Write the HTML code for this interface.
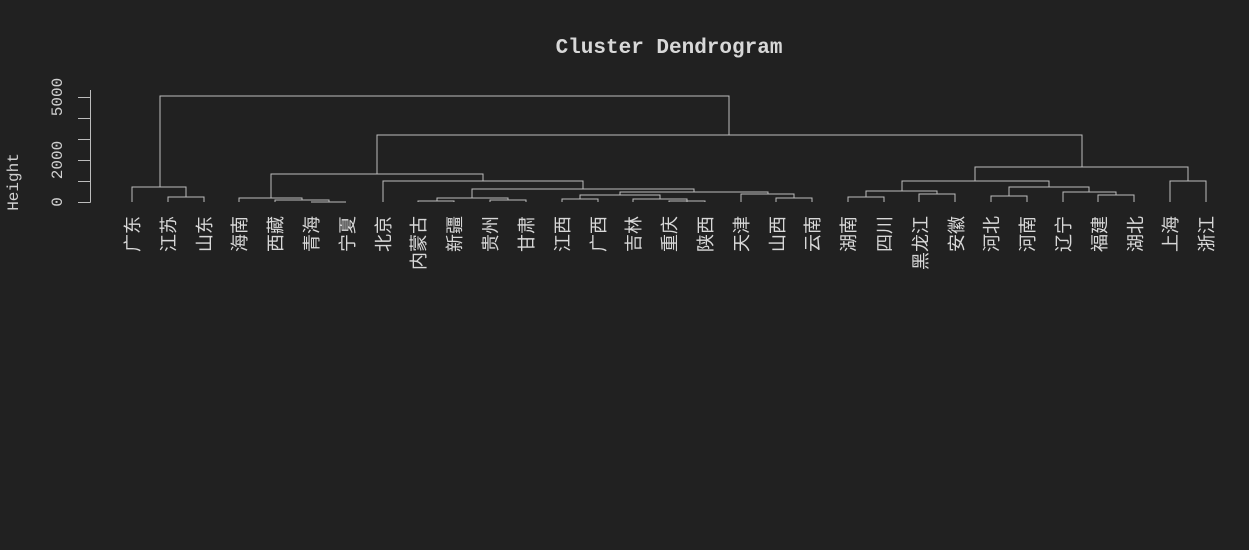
<!DOCTYPE html>
<html><head><meta charset="utf-8"><style>
html,body{margin:0;padding:0;background:#212121;}
svg{display:block}
</style></head><body>
<svg width="1249" height="550" xmlns="http://www.w3.org/2000/svg">
<rect width="1249" height="550" fill="#212121"/>
<text x="669" y="53" text-anchor="middle" fill="#d8d8d8" font-family="Liberation Mono, monospace" font-weight="bold" font-size="21">Cluster Dendrogram</text>
<g stroke="#bdbdbd" stroke-width="1" fill="none">
<path d="M90.5 90 V202.5 M78 202.5H90.5 M78 181.5H90.5 M78 160.5H90.5 M78 139.5H90.5 M78 118.5H90.5 M78 97.5H90.5"/>
</g>
<g fill="#d0d0d0" font-family="Liberation Mono, monospace" font-size="16" text-anchor="middle">
<text transform="translate(62,202) rotate(-90)">0</text>
<text transform="translate(62,160) rotate(-90)">2000</text>
<text transform="translate(62,97) rotate(-90)">5000</text>
<text transform="translate(18,182) rotate(-90)">Height</text>
</g>
<g stroke="#bdbdbd" stroke-width="1" fill="none" shape-rendering="crispEdges">
<!-- GD cluster -->
<path d="M168 202V197H204V202 M132 202V187H186V197 M160 187V96H729V135"/>
<!-- top right -->
<path d="M377 174V135H1082V167"/>
<!-- Hainan group -->
<path d="M311 202V202H346 M275 202V200H329V202 M239 202V198H302V200 M271 198V174H483V181"/>
<!-- Beijing group -->
<path d="M383 202V181H583V189"/>
<path d="M472 198V189H694V192"/>
<path d="M418 202V201H454V202 M490 202V200H526V202 M437 201V198H508V200"/>
<path d="M562 202V199H598V202 M580 199V195H660V199 M633 202V199H687V202 M669 202V201H705V202 M620 195V192H768V194"/>
<path d="M741 202V194H794V198 M776 202V198H812V202"/>
<!-- right -->
<path d="M975 181V167H1188V181 M1170 202V181H1206V202"/>
<path d="M902 191V181H1049V187"/>
<path d="M848 202V197H884V202 M866 197V191H937V194 M919 202V194H955V202"/>
<path d="M991 202V196H1027V202 M1009 196V187H1089V192 M1063 202V192H1116V195 M1098 202V195H1134V202"/>
</g>
<g fill="#d8d8d8" font-family="Liberation Sans, Noto Sans CJK SC, sans-serif" font-size="18" text-anchor="end">
<text transform="translate(139,216) rotate(-90)">广东</text>
<text transform="translate(175,216) rotate(-90)">江苏</text>
<text transform="translate(211,216) rotate(-90)">山东</text>
<text transform="translate(246,216) rotate(-90)">海南</text>
<text transform="translate(282,216) rotate(-90)">西藏</text>
<text transform="translate(318,216) rotate(-90)">青海</text>
<text transform="translate(354,216) rotate(-90)">宁夏</text>
<text transform="translate(390,216) rotate(-90)">北京</text>
<text transform="translate(425,216) rotate(-90)">内蒙古</text>
<text transform="translate(461,216) rotate(-90)">新疆</text>
<text transform="translate(497,216) rotate(-90)">贵州</text>
<text transform="translate(533,216) rotate(-90)">甘肃</text>
<text transform="translate(569,216) rotate(-90)">江西</text>
<text transform="translate(605,216) rotate(-90)">广西</text>
<text transform="translate(640,216) rotate(-90)">吉林</text>
<text transform="translate(676,216) rotate(-90)">重庆</text>
<text transform="translate(712,216) rotate(-90)">陕西</text>
<text transform="translate(748,216) rotate(-90)">天津</text>
<text transform="translate(784,216) rotate(-90)">山西</text>
<text transform="translate(819,216) rotate(-90)">云南</text>
<text transform="translate(855,216) rotate(-90)">湖南</text>
<text transform="translate(891,216) rotate(-90)">四川</text>
<text transform="translate(927,216) rotate(-90)">黑龙江</text>
<text transform="translate(963,216) rotate(-90)">安徽</text>
<text transform="translate(998,216) rotate(-90)">河北</text>
<text transform="translate(1034,216) rotate(-90)">河南</text>
<text transform="translate(1070,216) rotate(-90)">辽宁</text>
<text transform="translate(1106,216) rotate(-90)">福建</text>
<text transform="translate(1142,216) rotate(-90)">湖北</text>
<text transform="translate(1177,216) rotate(-90)">上海</text>
<text transform="translate(1213,216) rotate(-90)">浙江</text>
</g>
</svg>
</body></html>
